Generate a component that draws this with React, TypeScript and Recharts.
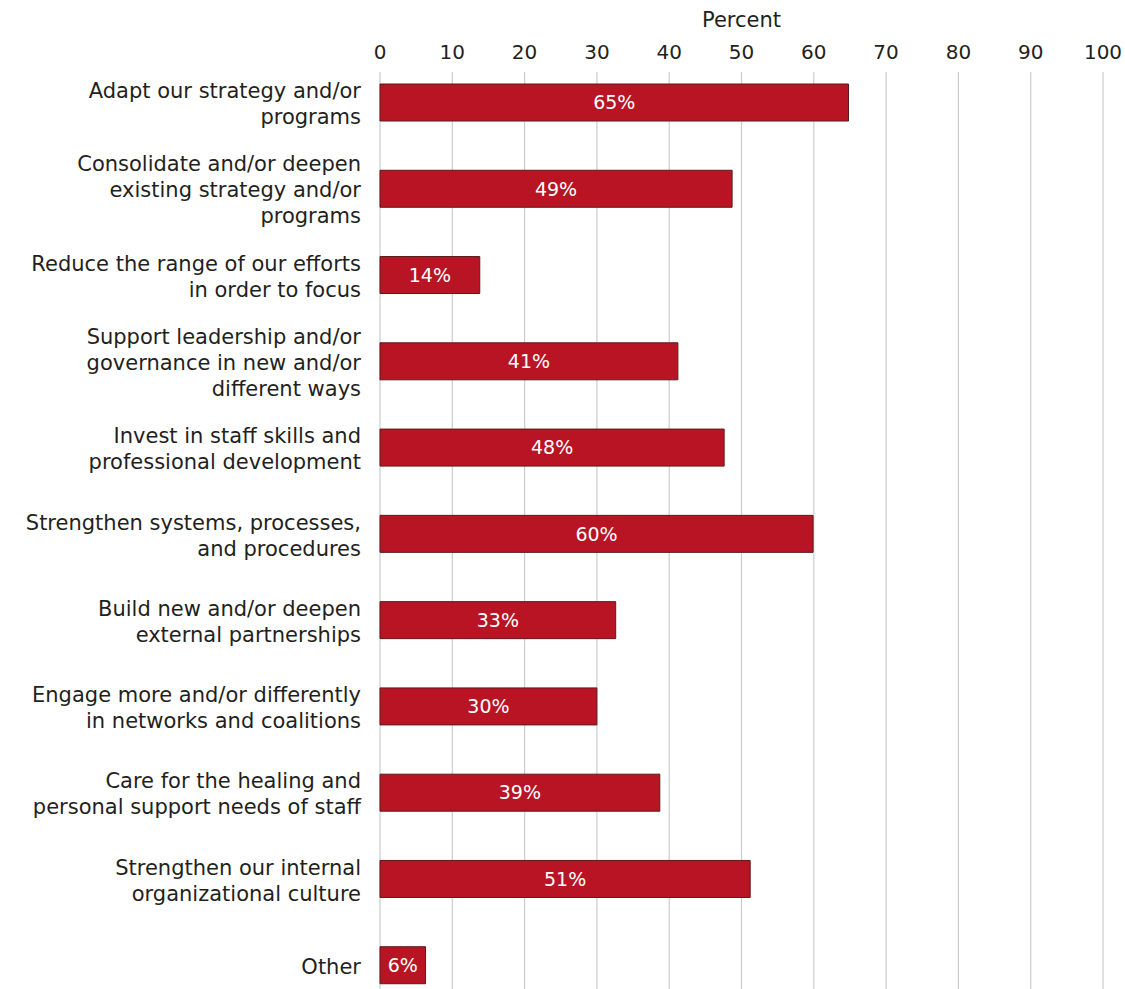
import React from 'react';
import { BarChart, Bar, XAxis, YAxis, CartesianGrid, LabelList, Label } from 'recharts';

const categories = [
  'Adapt our strategy and/or\nprograms',
  'Consolidate and/or deepen\nexisting strategy and/or\nprograms',
  'Reduce the range of our efforts\nin order to focus',
  'Support leadership and/or\ngovernance in new and/or\ndifferent ways',
  'Invest in staff skills and\nprofessional development',
  'Strengthen systems, processes,\nand procedures',
  'Build new and/or deepen\nexternal partnerships',
  'Engage more and/or differently\nin networks and coalitions',
  'Care for the healing and\npersonal support needs of staff',
  'Strengthen our internal\norganizational culture',
  'Other',
];

const percents = [64.8, 48.7, 13.8, 41.2, 47.6, 59.9, 32.6, 30.0, 38.7, 51.2, 6.3];

const xTicks = [0, 10, 20, 30, 40, 50, 60, 70, 80, 90, 100];

const data = categories.map((name, i) => ({ name, value: percents[i] }));

const FONT = '"DejaVu Sans", sans-serif';
const INK = '#231f20';

function CategoryTick({ x, y, payload }: any) {
  const lines = String(payload.value).split('\n');
  const lh = 26;
  const start = y - ((lines.length - 1) * lh) / 2 + 9;
  return (
    <text x={x} y={start} textAnchor="end" fill={INK} fontSize={21} fontFamily={FONT}>
      {lines.map((l, i) => (
        <tspan key={i} x={x} y={start + i * lh}>
          {l}
        </tspan>
      ))}
    </text>
  );
}

function PercentTick({ x, y, payload }: any) {
  return (
    <text x={x} y={y} textAnchor="middle" fill={INK} fontSize={20} fontFamily={FONT}>
      {payload.value}
    </text>
  );
}

function GridLine(props: any) {
  return (
    <line
      key={props.key}
      x1={props.x1}
      x2={props.x2}
      y1={72}
      y2={props.y2}
      stroke="#cccccc"
      strokeWidth={1.2}
    />
  );
}

export default function App() {
  return (
    <div
      style={{
        position: 'fixed',
        left: 0,
        top: 0,
        width: 1125,
        height: 989,
        overflow: 'hidden',
        background: '#fff',
      }}
    >
      <BarChart
        width={1125}
        height={1008}
        data={data}
        layout="vertical"
        margin={{ top: 0, right: 22, bottom: 0, left: 0 }}
        barSize={37}
      >
        <CartesianGrid horizontal={false} vertical={GridLine} />
        <XAxis
          type="number"
          orientation="top"
          domain={[0, 100]}
          ticks={xTicks}
          height={59}
          axisLine={false}
          tickLine={false}
          tickSize={0}
          tickMargin={0}
          tick={<PercentTick />}
          interval={0}
        >
          <Label
            value="Percent"
            position="insideTop"
            offset={12}
            fill={INK}
            fontSize={21}
            fontFamily={FONT}
          />
        </XAxis>
        <YAxis
          type="category"
          dataKey="name"
          width={380}
          axisLine={false}
          tickLine={false}
          tickSize={0}
          tickMargin={19}
          tick={<CategoryTick />}
          interval={0}
        />
        <Bar dataKey="value" fill="#b81424" stroke="#5c1a1a" strokeWidth={1} isAnimationActive={false}>
          <LabelList
            dataKey="value"
            position="center"
            formatter={(v: any) => `${Math.round(Number(v))}%`}
            fill="#ffffff"
            fontSize={19}
            fontFamily={FONT}
          />
        </Bar>
      </BarChart>
    </div>
  );
}
